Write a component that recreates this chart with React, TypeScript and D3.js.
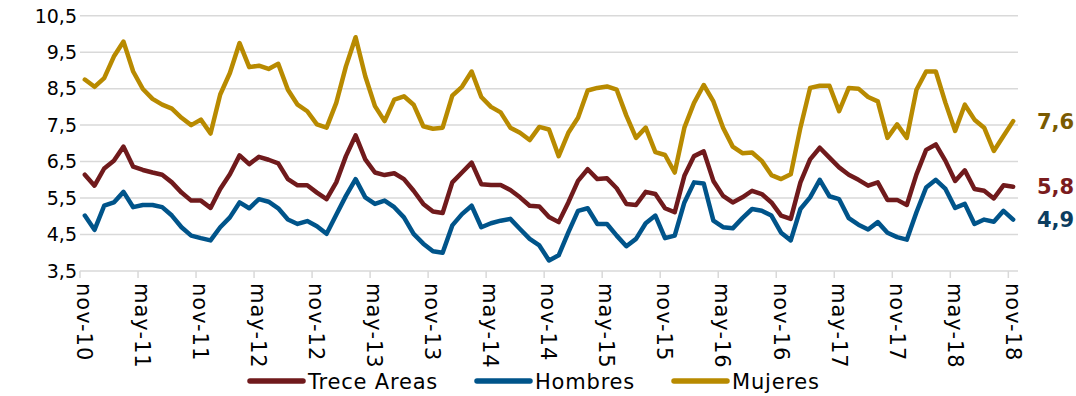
import React from "react";
import * as d3 from "d3";

const months = ["ene","feb","mar","abr","may","jun","jul","ago","sep","oct","nov","dic"];
// categories: nov-10 .. nov-18 (97 months)
const categories: string[] = d3.range(97).map((i) => {
  const m = (10 + i) % 12;
  const y = 10 + Math.floor((10 + i) / 12);
  return `${months[m]}-${y}`;
});
const tickLabels = ["nov-10","may-11","nov-11","may-12","nov-12","may-13","nov-13","may-14","nov-14","may-15","nov-15","may-16","nov-16","may-17","nov-17","may-18","nov-18"];
const yTicks = [3.5, 4.5, 5.5, 6.5, 7.5, 8.5, 9.5, 10.5];

const treceAreas = [
  6.14, 5.84, 6.31, 6.52, 6.91, 6.36, 6.27, 6.2, 6.14, 5.93, 5.65, 5.43, 5.43, 5.23, 5.75, 6.15,
  6.67, 6.43, 6.63, 6.55, 6.45, 6.02, 5.85, 5.85, 5.65, 5.47, 5.93, 6.65, 7.22, 6.56, 6.2, 6.13,
  6.18, 6.02, 5.7, 5.34, 5.13, 5.09, 5.93, 6.2, 6.47, 5.88, 5.86, 5.86, 5.72, 5.52, 5.29, 5.27,
  4.98, 4.84, 5.38, 5.97, 6.29, 6.02, 6.04, 5.77, 5.34, 5.31, 5.67, 5.61, 5.22, 5.11, 6.11, 6.65,
  6.78, 5.97, 5.56, 5.38, 5.52, 5.7, 5.61, 5.38, 5.02, 4.93, 5.93, 6.56, 6.88, 6.61, 6.34, 6.14,
  6.0, 5.84, 5.93, 5.45, 5.45, 5.31, 6.15, 6.82, 6.97, 6.52, 5.97, 6.26, 5.75, 5.7, 5.49, 5.85,
  5.81,
];
const hombres = [
  5.02, 4.63, 5.29, 5.38, 5.67, 5.25, 5.31, 5.31, 5.25, 5.02, 4.7, 4.47, 4.4, 4.34, 4.7, 4.97,
  5.38, 5.22, 5.47, 5.4, 5.22, 4.91, 4.79, 4.87, 4.73, 4.52, 5.04, 5.56, 6.02, 5.52, 5.34, 5.43,
  5.25, 4.97, 4.52, 4.25, 4.04, 4.0, 4.75, 5.06, 5.29, 4.7, 4.81, 4.88, 4.93, 4.65, 4.38, 4.2,
  3.79, 3.93, 4.56, 5.15, 5.22, 4.79, 4.79, 4.47, 4.18, 4.38, 4.81, 5.02, 4.4, 4.47, 5.38, 5.93,
  5.9, 4.88, 4.7, 4.67, 4.95, 5.2, 5.15, 5.02, 4.55, 4.34, 5.2, 5.52, 6.0, 5.55, 5.47, 4.95,
  4.77, 4.64, 4.84, 4.55, 4.43, 4.36, 5.11, 5.79, 6.0, 5.75, 5.23, 5.34, 4.79, 4.91, 4.85, 5.15,
  4.91,
];
const mujeres = [
  8.75, 8.55, 8.79, 9.38, 9.79, 8.97, 8.49, 8.22, 8.06, 7.95, 7.7, 7.5, 7.65, 7.27, 8.34, 8.93,
  9.75, 9.09, 9.13, 9.04, 9.18, 8.47, 8.06, 7.88, 7.52, 7.43, 8.11, 9.11, 9.91, 8.84, 8.02, 7.61,
  8.2, 8.29, 8.06, 7.47, 7.4, 7.43, 8.31, 8.55, 8.97, 8.27, 8.0, 7.85, 7.43, 7.29, 7.09, 7.45,
  7.38, 6.65, 7.29, 7.7, 8.45, 8.52, 8.56, 8.47, 7.76, 7.15, 7.43, 6.76, 6.68, 6.2, 7.43, 8.11,
  8.6, 8.15, 7.43, 6.91, 6.73, 6.75, 6.52, 6.13, 6.02, 6.15, 7.43, 8.52, 8.58, 8.58, 7.88, 8.52,
  8.5, 8.27, 8.15, 7.15, 7.52, 7.15, 8.47, 8.97, 8.97, 8.11, 7.34, 8.06, 7.65, 7.43, 6.79, 7.2,
  7.61,
];

const seriesNames = ["Trece Areas", "Hombres", "Mujeres"];
const seriesColors = ["#701a1c", "#00548a", "#b88a00"];
const labelColors = ["#7a1c1e", "#0c3d60", "#7a5a00"];
const seriesData = [treceAreas, hombres, mujeres];

const W = 1076;
const H = 396;
const FONT = "'DejaVu Sans', sans-serif";

export default function App() {
  const x = d3.scaleBand<string>().domain(categories).range([80, 1018]).padding(0);
  const bw = x.bandwidth();
  const y = d3.scaleLinear().domain([3.5, 10.5]).range([271, 15.7]);
  const fmt = (v: number) => d3.format(".1f")(v).replace(".", ",");

  const line = d3
    .line<number>()
    .x((_, i) => (x(categories[i]) as number) + bw / 2)
    .y((v) => y(v));

  const drawOrder = [2, 0, 1];

  return (
    <svg
      width={W}
      height={H}
      style={{ position: "absolute", left: 0, top: 0, background: "#fff" }}
      fontFamily={FONT}
    >
      {yTicks.map((t) => (
        <g key={t}>
          <line x1={80} x2={1018} y1={y(t)} y2={y(t)} stroke="#d9d9d9" strokeWidth={1.5} />
          <text x={77} y={y(t)} dy="0.36em" textAnchor="end" fontSize={19} fill="#000">
            {fmt(t)}
          </text>
        </g>
      ))}
      {tickLabels.map((lab) => {
        const xx = x(lab) as number;
        return (
          <g key={lab}>
            <line x1={xx} x2={xx} y1={y(3.5)} y2={y(3.5) + 7} stroke="#d9d9d9" strokeWidth={1.5} />
            <text
              transform={`translate(${xx + bw / 2},${y(3.5) + 12}) rotate(90)`}
              dy="0.36em"
              textAnchor="start"
              fontSize={21}
              letterSpacing={1}
              fill="#000"
            >
              {lab}
            </text>
          </g>
        );
      })}
      {drawOrder.map((s) => (
        <path
          key={seriesNames[s]}
          d={line(seriesData[s]) || ""}
          fill="none"
          stroke={seriesColors[s]}
          strokeWidth={4.5}
          strokeLinejoin="round"
          strokeLinecap="round"
        />
      ))}
      {seriesData.map((d, s) => (
        <text
          key={"lab" + s}
          x={1037}
          y={y(d[d.length - 1])}
          dy="0.36em"
          fontSize={21}
          fontWeight="bold"
          fill={labelColors[s]}
        >
          {fmt(d[d.length - 1])}
        </text>
      ))}
      {[248, 475, 672].map((lx, s) => (
        <g key={"leg" + s}>
          <line x1={lx + 2} x2={lx + 55} y1={381} y2={381} stroke={seriesColors[s]} strokeWidth={5.5} strokeLinecap="round" />
          <text x={lx + 60} y={381} dy="0.36em" fontSize={21} letterSpacing={0.8} fill="#000">
            {seriesNames[s]}
          </text>
        </g>
      ))}
    </svg>
  );
}
